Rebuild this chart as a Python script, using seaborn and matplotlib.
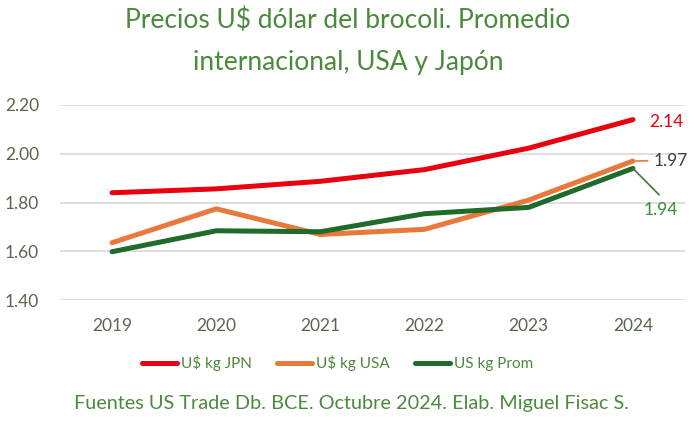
import matplotlib
matplotlib.use("Agg")
import matplotlib.pyplot as plt
import seaborn as sns
import pandas as pd
from matplotlib.lines import Line2D

years = ["2019", "2020", "2021", "2022", "2023", "2024"]
jpn = [1.84, 1.856, 1.887, 1.935, 2.023, 2.14]
usa = [1.635, 1.774, 1.669, 1.69, 1.81, 1.97]
prom = [1.598, 1.684, 1.68, 1.754, 1.78, 1.94]
series_names = ["U$ kg JPN", "U$ kg USA", "US kg Prom"]
colors = ["#E8000F", "#E8793A", "#1E6B2A"]
yticks = [1.40, 1.60, 1.80, 2.00, 2.20]

sns.set_theme(style="white")
plt.rcParams['font.family'] = ['Lato', 'DejaVu Sans']

rows = []
for name, vals in zip(series_names, [jpn, usa, prom]):
    for i, (y, v) in enumerate(zip(years, vals)):
        rows.append({"x": i, "year": y, "value": v, "serie": name})
df = pd.DataFrame(rows)

fig = plt.figure(figsize=(6.96, 4.21), dpi=100)
ax = fig.add_axes([0.0862, 0.2874, 0.898, 0.4632])
sns.lineplot(data=df, x="x", y="value", hue="serie", palette=colors,
             hue_order=series_names, linewidth=3.6, ax=ax, legend=False,
             solid_capstyle="round")

ax.set_xlim(-0.5, 5.5)
ax.set_ylim(1.40, 2.20)
ax.set_xticks(range(len(years)))
ax.set_xticklabels(years)
ax.set_yticks(yticks)
ax.set_yticklabels([f"{t:.2f}" for t in yticks])
ax.grid(axis="y", color="#D9D9D9", linewidth=1.2)
ax.set_axisbelow(True)
for s in ax.spines.values():
    s.set_visible(False)
ax.tick_params(axis="both", length=0, labelsize=12.5, labelcolor="#5A6650")
ax.tick_params(axis="x", pad=13)
ax.tick_params(axis="y", pad=15)
ax.set_xlabel("")
ax.set_ylabel("")

# data labels
ax.annotate(f"{jpn[-1]:.2f}", xy=(5, jpn[-1]), xytext=(5.154, 2.132),
            color="#E8000F", fontsize=12.5, va="center", ha="left")
ax.annotate(f"{usa[-1]:.2f}", xy=(5, usa[-1]), xytext=(5.2, 1.972),
            color="#404040", fontsize=12.5, va="center", ha="left",
            arrowprops=dict(arrowstyle="-", color="#E8793A", lw=1.2,
                            shrinkA=2, shrinkB=1, relpos=(0, 0.5)))
ax.annotate(f"{prom[-1]:.2f}", xy=(5, prom[-1]), xytext=(5.27, 1.771),
            color="#3F8A3A", fontsize=12.5, va="center", ha="center",
            arrowprops=dict(arrowstyle="-", color="#3F7A33", lw=1.2,
                            shrinkA=2, shrinkB=0, relpos=(0.5, 1.3)))

# title
fig.text(0.5, 0.952, "Precios U$ dólar del brocoli. Promedio", ha="center", va="center",
         fontsize=19, color="#4A8A3C")
fig.text(0.5, 0.852, "internacional, USA y Japón", ha="center", va="center",
         fontsize=19, color="#4A8A3C")

# legend
handles = [Line2D([0], [0], color=c, lw=3.6, solid_capstyle="round") for c in colors]
fig.legend(handles, series_names, loc="center", bbox_to_anchor=(0.485, 0.137),
           ncol=3, frameon=False, fontsize=11, handlelength=2.3, handletextpad=0.3,
           columnspacing=1.6, labelcolor="#4A8A3C")

fig.text(0.505, 0.022, "Fuentes US Trade Db. BCE. Octubre 2024. Elab. Miguel Fisac S.",
         ha="center", va="bottom", fontsize=14.3, color="#4A8A3C")

fig.savefig("out.png", dpi=100, facecolor="white")
